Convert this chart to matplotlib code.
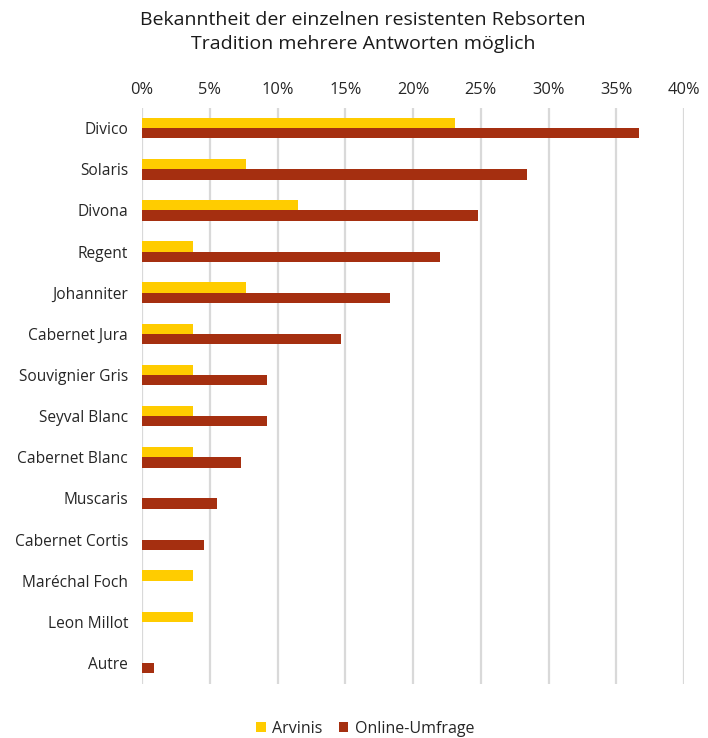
import numpy as np
import matplotlib
matplotlib.use("Agg")
import matplotlib.pyplot as plt
from matplotlib.ticker import PercentFormatter

# Data
sorten = ["Divico", "Solaris", "Divona", "Regent", "Johanniter", "Cabernet Jura",
          "Souvignier Gris", "Seyval Blanc", "Cabernet Blanc", "Muscaris",
          "Cabernet Cortis", "Maréchal Foch", "Leon Millot", "Autre"]
arvinis = [23.1, 7.7, 11.5, 3.8, 7.7, 3.8, 3.8, 3.8, 3.8, 0, 0, 3.8, 3.8, 0]
online = [36.7, 28.4, 24.8, 22.0, 18.3, 14.7, 9.2, 9.2, 7.3, 5.5, 4.6, 0, 0, 0.9]
x_ticks = [0, 5, 10, 15, 20, 25, 30, 35, 40]

plt.rcParams["font.family"] = ["Open Sans", "DejaVu Sans"]

fig = plt.figure(figsize=(7.08, 7.38), dpi=100)
top, bottom = 107.5, 107.5 + 14 * 41.15
ax = fig.add_axes([142 / 708, 1 - bottom / 738, (684 - 142) / 708, (bottom - top) / 738])

y = np.arange(len(sorten))
h = 0.25
ax.barh(y - h / 2, arvinis, height=h, color="#FFCC00", label="Arvinis", zorder=3)
ax.barh(y + h / 2, online, height=h, color="#A52F10", label="Online-Umfrage", zorder=3)

ax.set_ylim(len(sorten) - 0.5, -0.5)
ax.set_xlim(0, 40)
ax.set_xticks(x_ticks)
ax.xaxis.set_major_formatter(PercentFormatter(decimals=0))
ax.xaxis.tick_top()
ax.set_yticks(y)
ax.set_yticklabels(sorten)
ax.tick_params(axis="y", length=0, labelsize=11.2, colors="#262626", pad=10)
ax.tick_params(axis="x", length=0, labelsize=11.8, colors="#262626", pad=7)
ax.grid(axis="x", color="#D9D9D9", linewidth=1.6, zorder=0)
for s in ax.spines.values():
    s.set_visible(False)

fig.text(0.513, 0.985, "Bekanntheit der einzelnen resistenten Rebsorten\nTradition mehrere Antworten möglich",
         ha="center", va="top", fontsize=14, color="#1a1a1a", linespacing=1.4)

fig.legend(loc="lower center", bbox_to_anchor=(0.516, -0.018), ncol=2, frameon=False,
           fontsize=11.5, handlelength=0.6, handleheight=0.6, handletextpad=0.4,
           columnspacing=1.0, labelcolor="#262626")

fig.savefig("out.png", dpi=100)
